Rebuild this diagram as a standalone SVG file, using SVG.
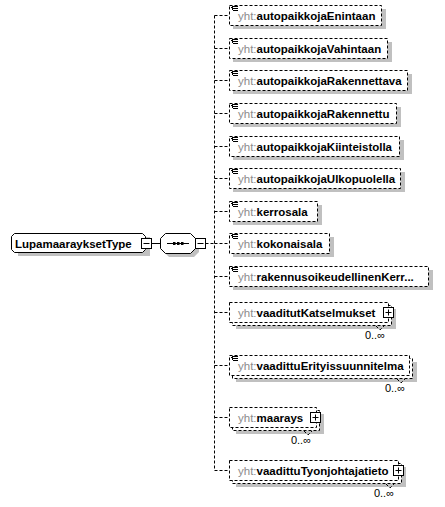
<svg xmlns="http://www.w3.org/2000/svg" width="445" height="507" viewBox="0 0 445 507">
<style>
text{font-family:"Liberation Sans",Arial,sans-serif;font-size:11.5px}
.ns{fill:#8c8c8c}
.nm{fill:#000;font-weight:bold}
.occ{font-size:11px;fill:#000;text-anchor:end}
.sh{fill:#c0c0c0;stroke:none}
.opt{fill:#fff;stroke:#000;stroke-width:1;stroke-dasharray:3,2}
.box{fill:#fff;stroke:#000;stroke-width:1}
.ln{fill:none;stroke:#000;stroke-width:1}
.dl{fill:none;stroke:#000;stroke-width:1;stroke-dasharray:3,2}
</style>
<defs>
<path id="icon" d="M231 0.5h1M232.5 -1v4M233 -0.5h5M233 1.5h5M233 3.5h5" fill="none" stroke="#000" stroke-width="1"/>
</defs>

<g id="connectors">
<line class="ln" x1="151.5" y1="243.5" x2="160.5" y2="243.5"/>
<line class="dl" x1="205.5" y1="243.5" x2="214.5" y2="243.5"/>
<line class="dl" x1="214.5" y1="15.5" x2="214.5" y2="470.5"/>
<path class="dl" d="M214.5 15.5H229M214.5 48.5H229M214.5 80.5H229M214.5 113.5H229M214.5 146.5H229M214.5 178.5H229M214.5 211.5H229M214.5 243.5H229M214.5 276.5H229M214.5 312.5H229M214.5 365.5H229M214.5 417.5H229M214.5 470.5H229"/>
</g>

<g id="LupamaarayksetType">
<path class="sh" d="M18 237h132v19h-132z"/>
<path class="box" d="M14.5 233.5h128l3 3v13l-3 3h-128l-3-3v-13z"/>
<text x="15" y="247.5" class="nm">LupamaarayksetType</text>
<rect class="box" x="141.5" y="238.5" width="10" height="10"/>
<line class="ln" x1="143.5" y1="243.5" x2="149.5" y2="243.5"/>
</g>

<g id="sequence">
<path class="sh" d="M169 237h25l5 5v10l-5 5h-25l-5-5v-10z"/>
<path class="box" d="M165.5 233.5h25l5 5v10l-5 5h-25l-5-5v-10z"/>
<line class="ln" x1="167" y1="243.5" x2="189" y2="243.5"/>
<rect x="173" y="242" width="2.5" height="3" fill="#000"/>
<rect x="177" y="242" width="2.5" height="3" fill="#000"/>
<rect x="181" y="242" width="2.5" height="3" fill="#000"/>
<rect class="box" x="195.5" y="238.5" width="10" height="10"/>
<line class="ln" x1="197.5" y1="243.5" x2="203.5" y2="243.5"/>
</g>

<g id="autopaikkojaEnintaan">
<rect class="sh" x="233" y="9" width="153" height="20"/>
<rect class="opt" x="229.5" y="5.5" width="152" height="20"/>
<use href="#icon" y="7"/>
<text x="238" y="19.5"><tspan class="ns">yht:</tspan><tspan class="nm">autopaikkojaEnintaan</tspan></text>
</g>

<g id="autopaikkojaVahintaan">
<rect class="sh" x="233" y="42" width="159" height="20"/>
<rect class="opt" x="229.5" y="38.5" width="158" height="20"/>
<use href="#icon" y="40"/>
<text x="238" y="52.5"><tspan class="ns">yht:</tspan><tspan class="nm">autopaikkojaVahintaan</tspan></text>
</g>

<g id="autopaikkojaRakennettava">
<rect class="sh" x="233" y="74" width="179" height="20"/>
<rect class="opt" x="229.5" y="70.5" width="178" height="20"/>
<use href="#icon" y="72"/>
<text x="238" y="84.5"><tspan class="ns">yht:</tspan><tspan class="nm">autopaikkojaRakennettava</tspan></text>
</g>

<g id="autopaikkojaRakennettu">
<rect class="sh" x="233" y="107" width="168" height="20"/>
<rect class="opt" x="229.5" y="103.5" width="167" height="20"/>
<use href="#icon" y="105"/>
<text x="238" y="117.5"><tspan class="ns">yht:</tspan><tspan class="nm">autopaikkojaRakennettu</tspan></text>
</g>

<g id="autopaikkojaKiinteistolla">
<rect class="sh" x="233" y="140" width="171" height="20"/>
<rect class="opt" x="229.5" y="136.5" width="170" height="20"/>
<use href="#icon" y="138"/>
<text x="238" y="150.5"><tspan class="ns">yht:</tspan><tspan class="nm">autopaikkojaKiinteistolla</tspan></text>
</g>

<g id="autopaikkojaUlkopuolella">
<rect class="sh" x="233" y="172" width="172" height="20"/>
<rect class="opt" x="229.5" y="168.5" width="171" height="20"/>
<use href="#icon" y="170"/>
<text x="238" y="182.5"><tspan class="ns">yht:</tspan><tspan class="nm">autopaikkojaUlkopuolella</tspan></text>
</g>

<g id="kerrosala">
<rect class="sh" x="233" y="205" width="89" height="20"/>
<rect class="opt" x="229.5" y="201.5" width="88" height="20"/>
<use href="#icon" y="203"/>
<text x="238" y="215.5"><tspan class="ns">yht:</tspan><tspan class="nm">kerrosala</tspan></text>
</g>

<g id="kokonaisala">
<rect class="sh" x="233" y="237" width="101" height="20"/>
<rect class="opt" x="229.5" y="233.5" width="100" height="20"/>
<use href="#icon" y="235"/>
<text x="238" y="247.5"><tspan class="ns">yht:</tspan><tspan class="nm">kokonaisala</tspan></text>
</g>

<g id="rakennusoikeudellinenKerrosala">
<rect class="sh" x="233" y="270" width="200" height="20"/>
<rect class="opt" x="229.5" y="266.5" width="199" height="20"/>
<use href="#icon" y="268"/>
<text x="238" y="280.5"><tspan class="ns">yht:</tspan><tspan class="nm">rakennusoikeudellinenKerr...</tspan></text>
</g>

<g id="vaaditutKatselmukset">
<rect class="sh" x="236" y="309" width="160" height="20"/>
<rect class="opt" x="232.5" y="305.5" width="159" height="20"/>
<rect class="opt" x="229.5" y="302.5" width="159" height="20"/>
<text x="238" y="316.5"><tspan class="ns">yht:</tspan><tspan class="nm">vaaditutKatselmukset</tspan></text>
<rect class="box" x="383.5" y="307.5" width="10" height="10"/>
<path class="ln" d="M385.5 312.5h6M388.5 309.5v6"/>
<path class="dl" d="M376 326l4 4 4-4"/>
<text class="occ" x="385" y="339">0..∞</text>
</g>

<g id="vaadittuErityissuunnitelma">
<rect class="sh" x="236" y="362" width="181" height="20"/>
<rect class="opt" x="232.5" y="358.5" width="180" height="20"/>
<rect class="opt" x="229.5" y="355.5" width="180" height="20"/>
<use href="#icon" y="357"/>
<text x="238" y="369.5"><tspan class="ns">yht:</tspan><tspan class="nm">vaadittuErityissuunnitelma</tspan></text>
<path class="dl" d="M397 379l4 4 4-4"/>
<text class="occ" x="405" y="392">0..∞</text>
</g>

<g id="maarays">
<rect class="sh" x="236" y="414" width="88" height="20"/>
<rect class="opt" x="232.5" y="410.5" width="87" height="20"/>
<rect class="opt" x="229.5" y="407.5" width="87" height="20"/>
<text x="238" y="421.5"><tspan class="ns">yht:</tspan><tspan class="nm">maarays</tspan></text>
<rect class="box" x="310.5" y="412.5" width="10" height="10"/>
<path class="ln" d="M312.5 417.5h6M315.5 414.5v6"/>
<path class="dl" d="M304 431l4 4 4-4"/>
<text class="occ" x="311" y="444">0..∞</text>
</g>

<g id="vaadittuTyonjohtajatieto">
<rect class="sh" x="236" y="467" width="170" height="20"/>
<rect class="opt" x="232.5" y="463.5" width="169" height="20"/>
<rect class="opt" x="229.5" y="460.5" width="169" height="20"/>
<text x="238" y="474.5"><tspan class="ns">yht:</tspan><tspan class="nm">vaadittuTyonjohtajatieto</tspan></text>
<rect class="box" x="393.5" y="465.5" width="10" height="10"/>
<path class="ln" d="M395.5 470.5h6M398.5 467.5v6"/>
<path class="dl" d="M386 484l4 4 4-4"/>
<text class="occ" x="394" y="497">0..∞</text>
</g>
</svg>
